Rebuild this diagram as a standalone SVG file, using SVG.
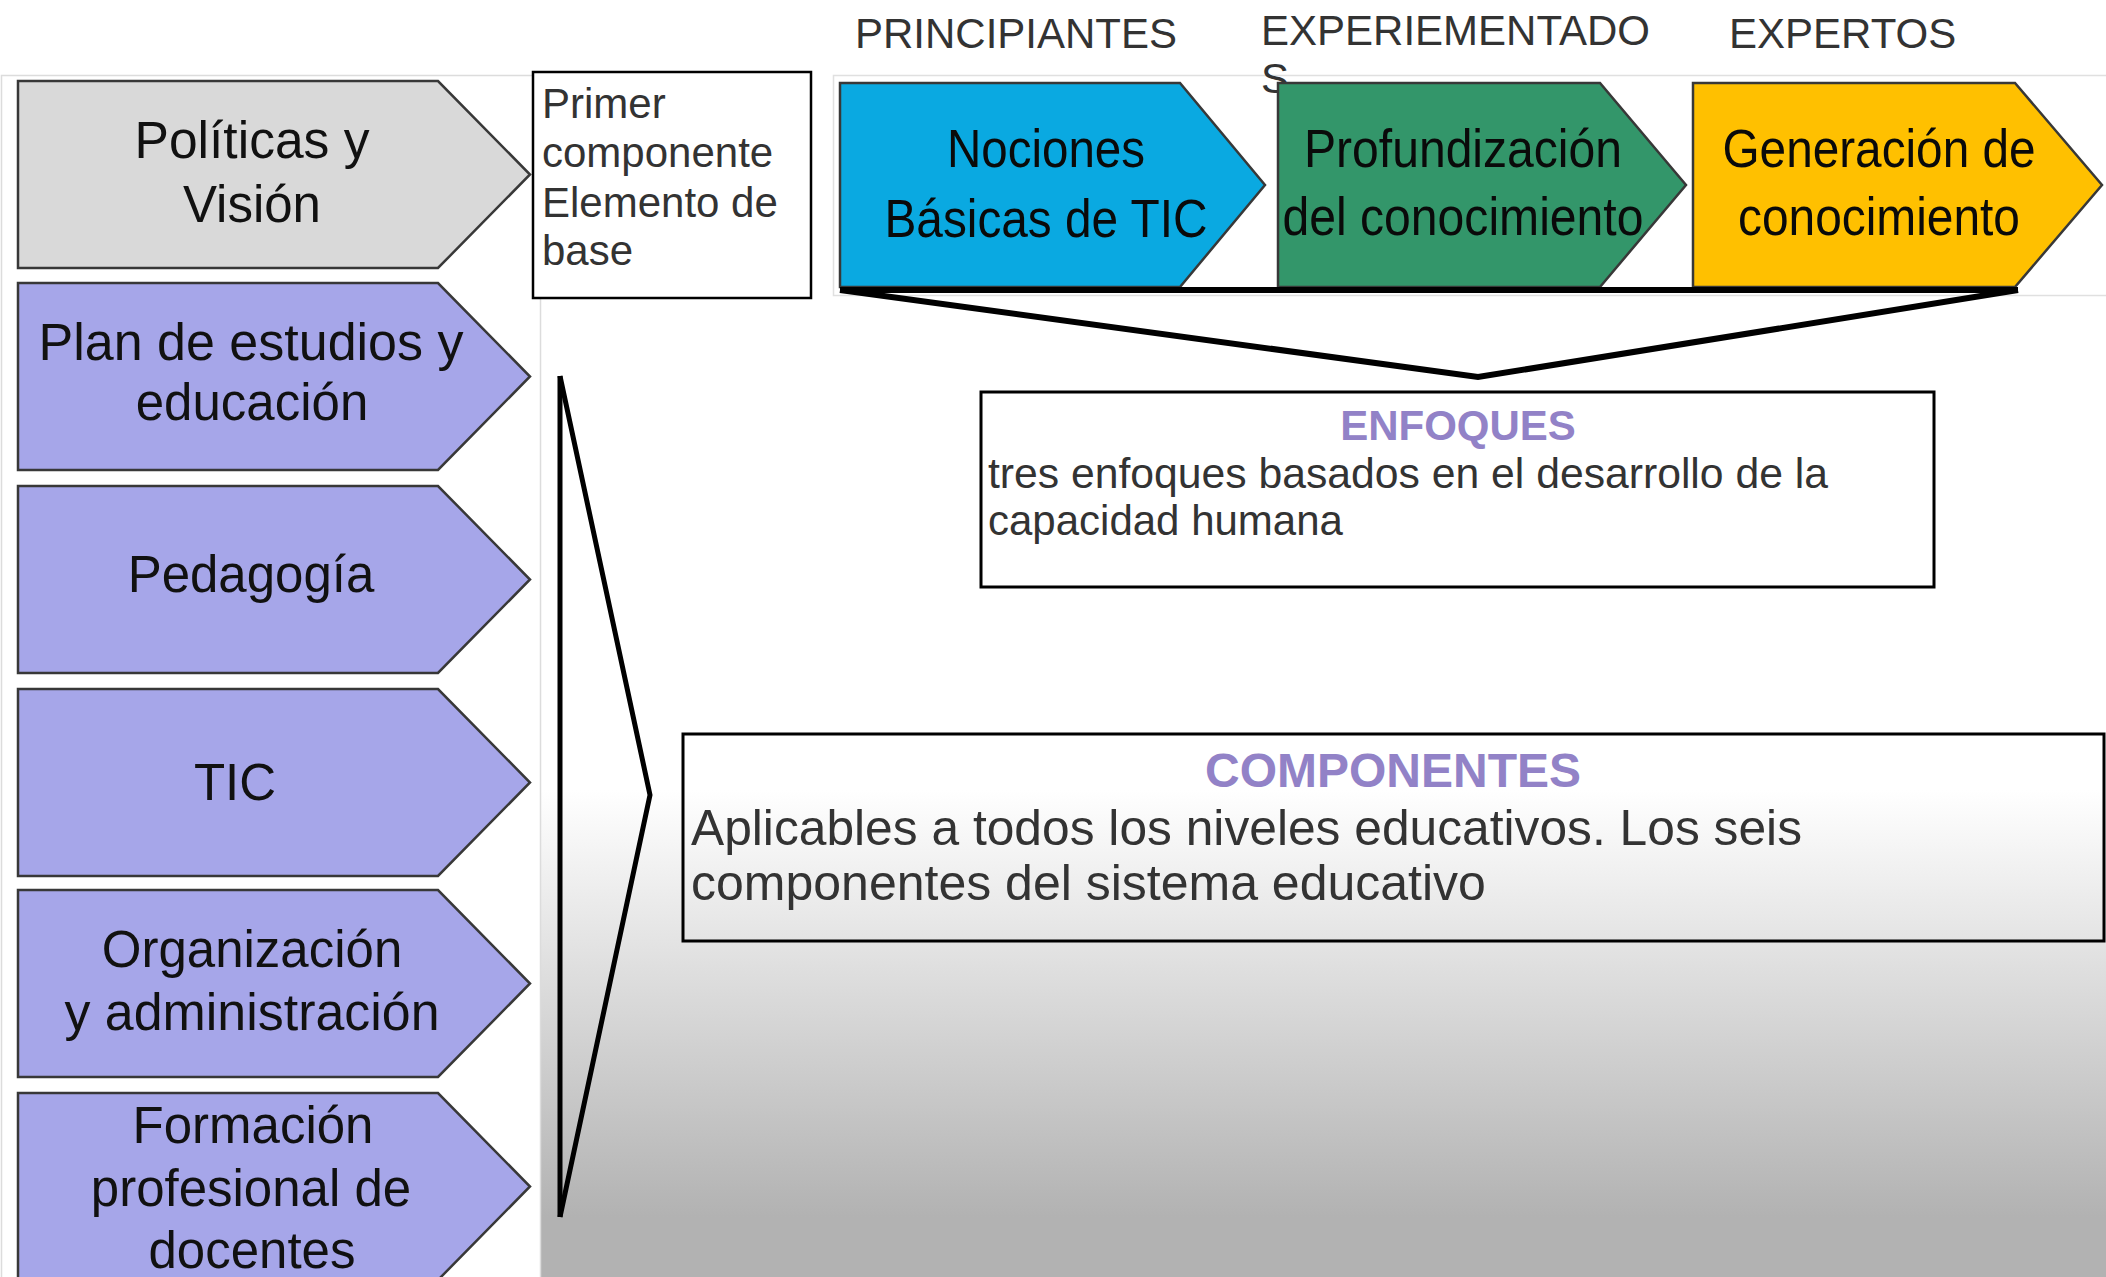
<svg xmlns="http://www.w3.org/2000/svg" width="2106" height="1277" viewBox="0 0 2106 1277">
<style>
.sans{font-family:"Liberation Sans",Arial,sans-serif}
.chev{stroke:#383838;stroke-width:2.5;stroke-linejoin:miter}
.gray{fill:#d9d9d9}
.purple{fill:#a6a6e9}
.ltxt{font-size:51px;fill:#111;text-anchor:middle}
.ttxt{font-size:54px;fill:#0a0a0a;text-anchor:middle}
.lbl{font-size:42px;fill:#333}
.box{fill:#fff;stroke:#000;stroke-width:3}
.title{font-weight:bold;fill:#9282c7;text-anchor:middle}
.conn{fill:none;stroke:#000;stroke-linejoin:miter}
</style>
<defs>
<linearGradient id="bg" gradientUnits="userSpaceOnUse" x1="0" y1="790" x2="0" y2="1217">
<stop offset="0" stop-color="#ffffff"/>
<stop offset="1" stop-color="#b2b2b2"/>
</linearGradient>
</defs>
<rect x="0" y="0" width="2106" height="1277" fill="#fff"/>
<rect x="541" y="296" width="1565" height="981" fill="url(#bg)"/>
<rect x="1.5" y="75.5" width="539" height="1215" fill="#fff" stroke="#dcdcdc" stroke-width="1.5"/>
<rect x="833.5" y="75.5" width="1280" height="220" fill="#fff" stroke="#e0e0e0" stroke-width="1.5"/>

<g id="labels" class="sans lbl">
<text x="855" y="48">PRINCIPIANTES</text>
<text x="1261" y="45">EXPERIEMENTADO</text>
<text x="1261" y="93">S</text>
<text x="1729" y="48">EXPERTOS</text>
</g>

<g id="node-politicas" class="sans">
<path class="chev gray" d="M18,81 H438 L530,174.5 L438,268 H18 Z"/>
<text class="ltxt" x="252" y="158" textLength="235" lengthAdjust="spacingAndGlyphs">Políticas y</text>
<text class="ltxt" x="252" y="222">Visión</text>
</g>
<g id="node-plan" class="sans">
<path class="chev purple" d="M18,283 H438 L530,376.5 L438,470 H18 Z"/>
<text class="ltxt" x="251" y="360" textLength="425" lengthAdjust="spacingAndGlyphs">Plan de estudios y</text>
<text class="ltxt" x="252" y="420">educación</text>
</g>
<g id="node-pedagogia" class="sans">
<path class="chev purple" d="M18,486 H438 L530,579.5 L438,673 H18 Z"/>
<text class="ltxt" x="251" y="592">Pedagogía</text>
</g>
<g id="node-tic" class="sans">
<path class="chev purple" d="M18,689 H438 L530,782.5 L438,876 H18 Z"/>
<text class="ltxt" x="235" y="800">TIC</text>
</g>
<g id="node-organizacion" class="sans">
<path class="chev purple" d="M18,890 H438 L530,983.5 L438,1077 H18 Z"/>
<text class="ltxt" x="252" y="967">Organización</text>
<text class="ltxt" x="252" y="1030" textLength="375" lengthAdjust="spacingAndGlyphs">y administración</text>
</g>
<g id="node-formacion" class="sans">
<path class="chev purple" d="M18,1093 H438 L530,1186.5 L438,1280 H18 Z"/>
<text class="ltxt" x="253" y="1143">Formación</text>
<text class="ltxt" x="251" y="1206">profesional de</text>
<text class="ltxt" x="252" y="1268">docentes</text>
</g>

<g id="node-primer" class="sans">
<rect x="533" y="72" width="278" height="226" fill="#fff" stroke="#000" stroke-width="2.5"/>
<text class="lbl" x="542" y="118">Primer</text>
<text class="lbl" x="542" y="167">componente</text>
<text class="lbl" x="542" y="217">Elemento de</text>
<text class="lbl" x="542" y="265">base</text>
</g>

<g id="node-nociones" class="sans">
<path class="chev" fill="#0aa9e1" d="M840,83 H1180 L1265,185 L1180,287 H840 Z"/>
<text class="ttxt" x="1046" y="167" textLength="198" lengthAdjust="spacingAndGlyphs">Nociones</text>
<text class="ttxt" x="1046" y="237" textLength="323" lengthAdjust="spacingAndGlyphs">Básicas de TIC</text>
</g>
<g id="node-profundizacion" class="sans">
<path class="chev" fill="#33966a" d="M1278,83 H1600 L1686,185 L1600,287 H1278 Z"/>
<text class="ttxt" x="1463" y="167" textLength="318" lengthAdjust="spacingAndGlyphs">Profundización</text>
<text class="ttxt" x="1463" y="235" textLength="361" lengthAdjust="spacingAndGlyphs">del conocimiento</text>
</g>
<g id="node-generacion" class="sans">
<path class="chev" fill="#ffc000" d="M1693,83 H2015 L2102,185 L2015,287 H1693 Z"/>
<text class="ttxt" x="1879" y="167" textLength="313" lengthAdjust="spacingAndGlyphs">Generación de</text>
<text class="ttxt" x="1879" y="235" textLength="282" lengthAdjust="spacingAndGlyphs">conocimiento</text>
</g>

<g id="node-enfoques" class="sans">
<rect class="box" x="981" y="392" width="953" height="195"/>
<text class="title" x="1458" y="440" font-size="42">ENFOQUES</text>
<text class="lbl" x="988" y="488" textLength="840" lengthAdjust="spacingAndGlyphs">tres enfoques basados en el desarrollo de la</text>
<text class="lbl" x="988" y="535">capacidad humana</text>
</g>

<g id="node-componentes" class="sans">
<rect x="683" y="734" width="1421" height="207" fill="none" stroke="#000" stroke-width="3"/>
<text class="title" x="1393" y="787" font-size="48">COMPONENTES</text>
<text x="691" y="845" font-size="50" fill="#333" textLength="1111" lengthAdjust="spacingAndGlyphs">Aplicables a todos los niveles educativos. Los seis</text>
<text x="691" y="900" font-size="50" fill="#333">componentes del sistema educativo</text>
</g>

<g id="connectors">
<path class="conn" stroke-width="6" d="M840,290 H2018"/>
<path class="conn" stroke-width="6" d="M840,290 L1478,377 L2018,290"/>
<path class="conn" stroke-width="5" d="M560,376 V1217"/>
<path class="conn" stroke-width="5" d="M560,376 L650,795 L560,1217"/>
</g>
</svg>
